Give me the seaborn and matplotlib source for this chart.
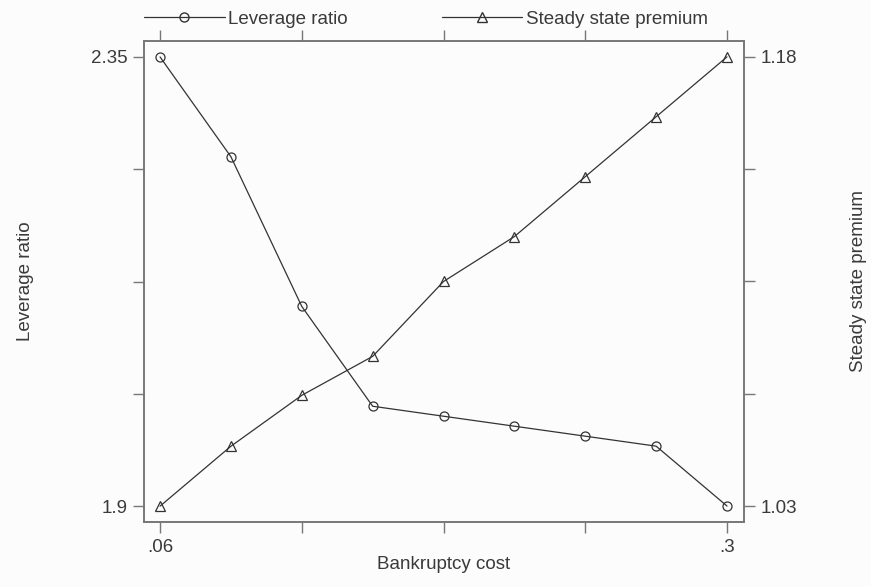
import matplotlib
matplotlib.use("Agg")
import matplotlib.pyplot as plt
import seaborn as sns
import pandas as pd
from matplotlib.lines import Line2D

bankruptcy_cost = [0.06, 0.09, 0.12, 0.15, 0.18, 0.21, 0.24, 0.27, 0.30]
leverage_ratio = [2.35, 2.25, 2.10, 2.00, 1.99, 1.98, 1.97, 1.96, 1.90]
premium = [1.03, 1.05, 1.067, 1.08, 1.105, 1.12, 1.14, 1.16, 1.18]
x_ticks = [0.06, 0.12, 0.18, 0.24, 0.30]
x_ticklabels = [".06", "", "", "", ".3"]
left_ticks = [1.9, 2.0125, 2.125, 2.2375, 2.35]
left_ticklabels = ["1.9", "", "", "", "2.35"]
right_ticks = [1.03, 1.0675, 1.105, 1.1425, 1.18]
right_ticklabels = ["1.03", "", "", "", "1.18"]

df = pd.DataFrame({"x": bankruptcy_cost, "lev": leverage_ratio, "prem": premium})

sns.set_style("white")
plt.rcParams['font.family'] = ['Liberation Sans', 'DejaVu Sans']
bg = "#fcfcfc"
txt = "#3a3a3a"
linec = "#333333"
spc = "#777777"
fs = 13.5

fig = plt.figure(figsize=(8.71, 5.87), dpi=100, facecolor=bg)
ax = fig.add_axes([144/871, 1 - 522/587, (744-144)/871, (522-41)/587])
ax.set_facecolor(bg)
ax2 = ax.twinx()

sns.lineplot(data=df, x="x", y="lev", ax=ax, color=linec, lw=0.9, marker="o",
             markersize=6.5, markerfacecolor="none", markeredgecolor=linec, markeredgewidth=0.9)
sns.lineplot(data=df, x="x", y="prem", ax=ax2, color=linec, lw=0.9, marker="^",
             markersize=7, markerfacecolor="none", markeredgecolor=linec, markeredgewidth=0.9)

ax.set_xlim(0.0532, 0.3072)
ax.set_ylim(1.884, 2.366)
ax2.set_ylim(1.0247, 1.1853)

ax.set_xticks(x_ticks)
ax.set_xticklabels(x_ticklabels)
ax.set_yticks(left_ticks)
ax.set_yticklabels(left_ticklabels)
ax2.set_yticks(right_ticks)
ax2.set_yticklabels(right_ticklabels)

ax.tick_params(axis="both", direction="out", length=8, width=1, color=spc,
               labelsize=fs, labelcolor=txt, pad=4, top=True, bottom=True)
ax2.tick_params(axis="y", direction="out", length=8, width=1, color=spc,
                labelsize=fs, labelcolor=txt, pad=4)

for a in (ax, ax2):
    for s in a.spines.values():
        s.set_visible(True)
        s.set_color(spc)
        s.set_linewidth(1.2)

ax.set_xlabel("Bankruptcy cost", fontsize=fs, color=txt, labelpad=0)
ax.set_ylabel("")
ax2.set_ylabel("")
fig.text(25/871, 1 - 281/587, "Leverage ratio", rotation=90, fontsize=fs, color=txt,
         ha="center", va="center")
fig.text(858/871, 1 - 281/587, "Steady state premium", rotation=90, fontsize=fs, color=txt,
         ha="center", va="center")

h1 = Line2D([], [], color=linec, lw=0.9, marker="o", markersize=6.5,
            markerfacecolor="none", markeredgecolor=linec)
h2 = Line2D([], [], color=linec, lw=0.9, marker="^", markersize=7,
            markerfacecolor="none", markeredgecolor=linec)
leg = fig.legend([h1, h2], ["Leverage ratio", "Steady state premium"], ncol=2,
                 loc="center left", bbox_to_anchor=(144/871, 1 - 19/587),
                 frameon=False, fontsize=fs, handlelength=4.3, handletextpad=0.2,
                 columnspacing=5.0, numpoints=1, borderaxespad=0, borderpad=0)
for t in leg.get_texts():
    t.set_color(txt)

fig.savefig("out.png", dpi=100, facecolor=bg)
